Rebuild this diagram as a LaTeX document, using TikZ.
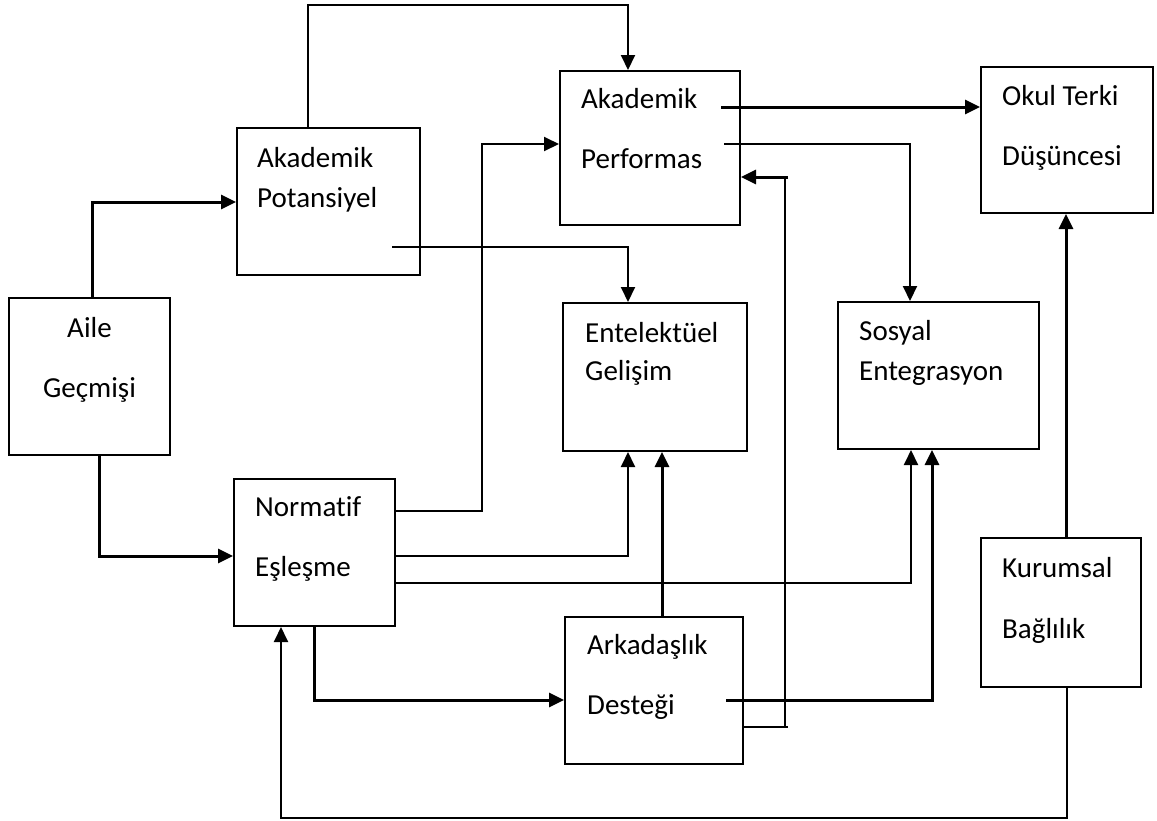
\documentclass[tikz,border=0pt]{standalone}
\usepackage{fontspec}
\setmainfont[Ligatures={NoCommon}]{Carlito}
\usetikzlibrary{arrows.meta}
\begin{document}
\begin{tikzpicture}[x=1pt,y=-1pt,
  box/.style={draw,line width=2pt,rectangle,inner sep=0pt},
  lbl/.style={inner sep=0pt,anchor=base west,font=\fontsize{29}{29}\selectfont},
  clbl/.style={inner sep=0pt,anchor=base,font=\fontsize{29}{29}\selectfont},
  arr/.style={line width=3pt,-{Triangle[length=15pt,width=14pt]}},
  thin/.style={line width=2pt}]
\useasboundingbox (0,0) rectangle (1157,820);
% boxes
\node[box,minimum width=161pt,minimum height=157pt] (aile) at (89.5,376.5) {};
\node[box,minimum width=183pt,minimum height=147pt] (akpot) at (328.5,201.5) {};
\node[box,minimum width=180pt,minimum height=154pt] (akperf) at (650,148) {};
\node[box,minimum width=172pt,minimum height=146pt] (okul) at (1067,140) {};
\node[box,minimum width=184pt,minimum height=148pt] (entel) at (655,377) {};
\node[box,minimum width=201pt,minimum height=147pt] (sosyal) at (938.5,375.5) {};
\node[box,minimum width=161pt,minimum height=147pt] (norm) at (314.5,552.5) {};
\node[box,minimum width=178pt,minimum height=147pt] (arkad) at (654,690.5) {};
\node[box,minimum width=160pt,minimum height=149pt] (kurum) at (1061,612.5) {};
% texts
\node[clbl] (aile-t1) at (89.5,337) {Aile};
\node[clbl] (aile-t2) at (89.5,397) {Geçmişi};
\node[lbl] (akpot-t1) at (257,167) {Akademik};
\node[lbl] (akpot-t2) at (257,207) {Potansiyel};
\node[lbl] (akperf-t1) at (581,108) {Akademik};
\node[lbl] (akperf-t2) at (581,168) {Performas};
\node[lbl] (okul-t1) at (1002,105) {Okul Terki};
\node[lbl] (okul-t2) at (1002,165) {Düşüncesi};
\node[lbl] (entel-t1) at (585,342) {Entelektüel};
\node[lbl] (entel-t2) at (585,380) {Gelişim};
\node[lbl] (sosyal-t1) at (859,340) {Sosyal};
\node[lbl] (sosyal-t2) at (859,380) {Entegrasyon};
\node[lbl] (norm-t1) at (255,516) {Normatif};
\node[lbl] (norm-t2) at (255,576) {Eşleşme};
\node[lbl] (arkad-t1) at (587,654) {Arkadaşlık};
\node[lbl] (arkad-t2) at (587,714) {Desteği};
\node[lbl] (kurum-t1) at (1002,577) {Kurumsal};
\node[lbl] (kurum-t2) at (1002,638) {Bağlılık};
% free-end coordinates
\coordinate (p1) at (392,247);
\coordinate (p2) at (721,107);
\coordinate (p3) at (724,144);
\coordinate (p4) at (726,700);
% connectors
\draw[arr] (aile.north -| 92,0) |- (akpot.west |- 0,202);
\draw[arr] (aile.south -| 99,0) |- (norm.west |- 0,556);
\draw[arr,thin] (akpot.north -| 308,0) |- (628,5) -- (akperf.north -| 628,0);
\draw[arr,thin] (p1) -| (entel.north -| 628,0);
\draw[arr] (p2) -- (okul.west |- p2);
\draw[arr,thin] (p3) -| (sosyal.north -| 910,0);
\draw[arr,thin] (norm.east |- 0,511) -| (482,144) -- (akperf.west |- 0,144);
\draw[arr,thin] (norm.east |- 0,556) -| (entel.south -| 628,0);
\draw[arr,thin] (norm.east |- 0,583) -| (sosyal.south -| 911,0);
\draw[arr] (norm.south -| 314,0) |- (arkad.west |- 0,700);
\draw[arr] (arkad.north -| 662,0) -- (entel.south -| 662,0);
\draw[arr] (p4) -| (sosyal.south -| 932,0);
\draw[thin] (arkad.east |- 0,727) -- (788,727);
\draw[thin] (785,727) -- (785,177);
\draw[arr] (788,177) -- (akperf.east |- 0,177);
\draw[arr] (kurum.north -| 1066,0) -- (okul.south -| 1066,0);
\draw[arr,thin] (kurum.south -| 1067,0) |- (281,818) -- (norm.south -| 281,0);
\end{tikzpicture}
\end{document}
